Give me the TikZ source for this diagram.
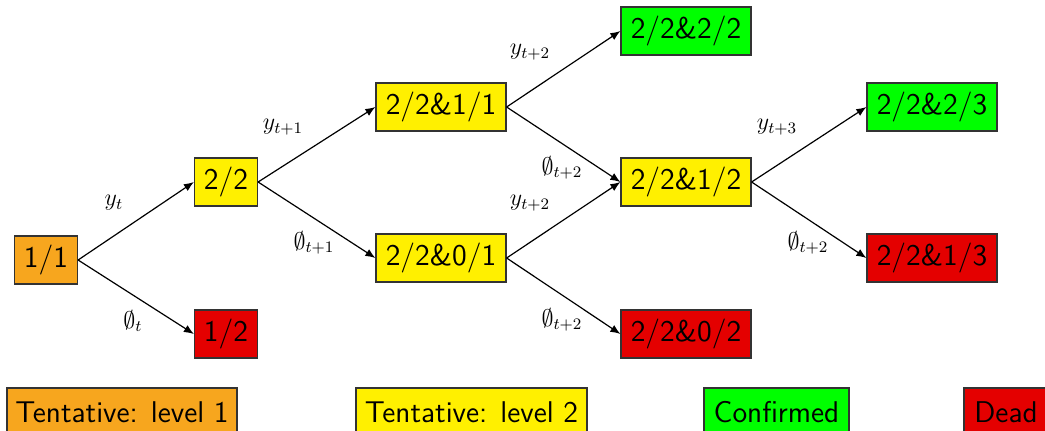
\documentclass[tikz,border=0pt]{standalone}
\usetikzlibrary{arrows.meta}
\definecolor{corange}{RGB}{247,166,30}
\definecolor{cyellow}{RGB}{255,240,0}
\definecolor{cgreen}{RGB}{0,255,0}
\definecolor{cred}{RGB}{228,0,0}
\tikzset{
  box/.style={draw=black!80, line width=0.6pt, minimum height=24pt, inner sep=0pt,
    font=\sffamily\fontsize{15}{18}\selectfont},
  sbox/.style={box, minimum width=31.5pt},
  lbox/.style={box, minimum width=65pt},
  lab/.style={font=\fontsize{12}{14}\selectfont, inner sep=0pt},
  conn/.style={line width=0.6pt, -{Latex[length=5pt,width=4pt]}}
}
\begin{document}
\begin{tikzpicture}[x=0.5pt,y=-0.5pt]
\clip (0,0) rectangle (1045,430);
\useasboundingbox (0,0) rectangle (1045,430);
% nodes
\node[sbox, fill=corange] (a) at (46,260) {1/1};
\node[sbox, fill=cyellow] (b) at (226,182) {2/2};
\node[sbox, fill=cred] (c) at (226,334) {1/2};
\node[lbox, fill=cyellow] (d) at (441,107) {2/2\&1/1};
\node[lbox, fill=cyellow] (e) at (441,258) {2/2\&0/1};
\node[lbox, fill=cgreen] (f) at (686,31) {2/2\&2/2};
\node[lbox, fill=cyellow] (g) at (686,182) {2/2\&1/2};
\node[lbox, fill=cred] (h) at (686,334) {2/2\&0/2};
\node[lbox, fill=cgreen] (i) at (932,107) {2/2\&2/3};
\node[lbox, fill=cred] (j) at (932,258) {2/2\&1/3};
% connectors
\draw[conn] (a.east) -- (b.west);
\draw[conn] (a.east) -- (c.west);
\draw[conn] (b.east) -- (d.west);
\draw[conn] (b.east) -- (e.west);
\draw[conn] (d.east) -- (f.west);
\draw[conn] (d.east) -- (g.west);
\draw[conn] (e.east) -- (g.west);
\draw[conn] (e.east) -- (h.west);
\draw[conn] (g.east) -- (i.west);
\draw[conn] (g.east) -- (j.west);
% labels
\node[lab] (l1) at (114,203) {$y_t$};
\node[lab] (l2) at (133,321) {$\emptyset_t$};
\node[lab] (l3) at (283,127) {$y_{t+1}$};
\node[lab] (l4) at (314,243) {$\emptyset_{t+1}$};
\node[lab] (l5) at (530,52) {$y_{t+2}$};
\node[lab] (l6) at (562,168) {$\emptyset_{t+2}$};
\node[lab] (l7) at (530,203) {$y_{t+2}$};
\node[lab] (l8) at (562,320) {$\emptyset_{t+2}$};
\node[lab] (l9) at (777,127) {$y_{t+3}$};
\node[lab] (l10) at (808,243) {$\emptyset_{t+2}$};
% legend
\node[box, fill=corange, minimum width=115pt] (k1) at (122,412) {Tentative: level 1};
\node[box, fill=cyellow, minimum width=115.5pt] (k2) at (471.5,412) {Tentative: level 2};
\node[box, fill=cgreen, minimum width=72.5pt] (k3) at (776.5,412) {Confirmed};
\node[box, fill=cred, minimum width=42pt] (k4) at (1006,412) {Dead};
\end{tikzpicture}
\end{document}
